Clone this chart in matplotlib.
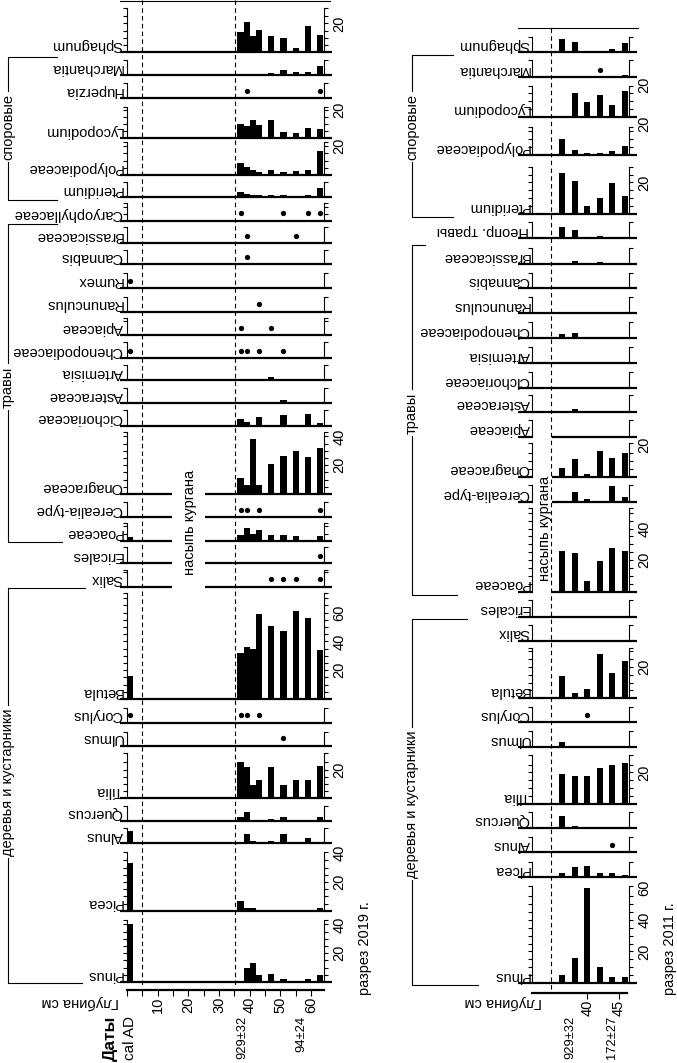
import matplotlib.pyplot as plt
from matplotlib import transforms

plt.rcParams['font.family'] = ['Liberation Sans', 'DejaVu Sans']

W, H = 677, 1063
P = 'p'  # единичные зерна - точка

# ---------------- разрез 2019 г. ----------------
depth19 = [1, 37, 39, 41, 43, 47, 51, 55, 59, 63]
pinus19 = [40, 1, 9.5, 13, 5, 5.5, 2, 0, 2, 5]
picea19 = [33, 6.6, 2, 2, 0, 0, 0, 0, 0.5, 1.6]
alnus19 = [8.4, 1.1, 6.4, 1.8, 0.7, 1.8, 6.4, 0.7, 3.4, 1.1]
quercus19 = [0, 2.7, 6.2, 0, 0, 0.9, 2.3, 0, 0, 2.7]
tilia19 = [0, 25, 21.7, 9.1, 12.6, 21.7, 9.1, 12.6, 12.6, 22.4]
ulmus19 = [0, 0, 0, 0, 0, 0, P, 0, 0, 0]
corylus19 = [P, P, P, 0, P, 0, 0, 0, 0, 0]
betula19 = [16, 32, 36, 35, 59, 51, 47, 61, 56, 34]
salix19 = [0, 0, 0, 0, 0, P, P, P, 0, P]
ericales19 = [0, 0, 0, 0, 0, 0, 0, 0, 0, P]
poaceae19 = [2.3, 3.9, 9.1, 5, 7.3, 3.9, 3.9, 3.2, 0, 3.2]
cerealia19 = [0, P, P, 0, P, 0, 0, 0, 0, P]
onagraceae19 = [0, 11, 6, 38, 6, 20.5, 26.5, 29.7, 25.5, 32]
cichoriaceae19 = [0, 5, 2.7, 0, 6.2, 0, 7.3, 0.5, 8, 2]
asteraceae19 = [0, 1.1, 0, 0, 0.7, 0, 2.3, 0, 0, 0]
artemisia19 = [1, 0, 0, 0, 0.7, 1.8, 0, 0, 0, 0]
chenopod19 = [P, P, P, 0, P, 0, P, 0, 0, 0]
apiaceae19 = [0, P, 0, 0, 0, P, 0, 0, 0, 0]
ranunculus19 = [0, 0, 0, 0, P, 0, 0, 0, 0, 0]
rumex19 = [P, 0, 0, 0, 0, 0, 0, 0, 0, 0]
cannabis19 = [0, 0, P, 0, 0, 0, 0, 0, 0, 0]
brassica19 = [0, 0, P, 0, 0, 0, 0, P, 0, 0]
caryoph19 = [0, P, 0, 0, 0, 0, P, 0, P, P]
pteridium19 = [0.9, 3.2, 2.3, 1.6, 1.4, 1.6, 1.6, 0.9, 1.4, 6.2]
polypod19 = [0, 8.4, 5.7, 3.4, 2.3, 3.4, 2.3, 3, 3.4, 16.7]
lycopod19 = [0, 9.8, 8.4, 13, 9.1, 13, 4.6, 3.9, 7.3, 6.8]
huperzia19 = [0, 0, P, 0, 0, 0, 0, 0, 0, P]
marchantia19 = [0, 0.7, 0, 0, 0.7, 1.1, 3.4, 2.3, 2.3, 6.2]
sphagnum19 = [0.5, 14.2, 21, 11.2, 15.8, 11.2, 9.6, 2.7, 18, 11.9]

taxa19 = ['Pinus', 'Picea', 'Alnus', 'Quercus', 'Tilia', 'Ulmus', 'Corylus',
          'Betula', 'Salix', 'Ericales', 'Poaceae', 'Cerealia-type',
          'Onagraceae', 'Cichoriaceae', 'Asteraceae', 'Artemisia',
          'Chenopodiaceae', 'Apiaceae', 'Ranunculus', 'Rumex', 'Cannabis',
          'Brassicaceae', 'Caryophyllaceae', 'Pteridium', 'Polypodiaceae',
          'Lycopodium', 'Huperzia', 'Marchantia', 'Sphagnum']
values19 = [pinus19, picea19, alnus19, quercus19, tilia19, ulmus19, corylus19,
            betula19, salix19, ericales19, poaceae19, cerealia19,
            onagraceae19, cichoriaceae19, asteraceae19, artemisia19,
            chenopod19, apiaceae19, ranunculus19, rumex19, cannabis19,
            brassica19, caryoph19, pteridium19, polypod19, lycopod19,
            huperzia19, marchantia19, sphagnum19]
scale19 = {'Pinus': [20, 40], 'Picea': [20, 40], 'Tilia': [20],
           'Betula': [20, 40, 60], 'Onagraceae': [20, 40],
           'Polypodiaceae': [20], 'Lycopodium': [20], 'Sphagnum': [20]}
gap19 = ['Salix', 'Ericales', 'Poaceae', 'Cerealia-type', 'Onagraceae']
bounds19 = [4.9, 35.2]
dates19 = ['929±32', '94±24']
date_depth19 = [37.6, 56.8]

# ---------------- разрез 2011 г. ----------------
depth11 = [36, 38, 40, 42, 44, 46]
pinus11 = [5, 15.8, 60, 10.3, 4, 4]
picea11 = [2.5, 6.3, 7.2, 3, 3, 1.5]
alnus11 = [0, 0, 0, 0, P, 0]
quercus11 = [7.6, 1, 0, 0, 0, 0.6]
tilia11 = [19, 17.7, 17.7, 22.6, 24.7, 26.1]
ulmus11 = [3.2, 1, 0, 0, 0, 0]
corylus11 = [0, 0, P, 0, 0, 0]
betula11 = [14.3, 3.2, 5.9, 28.1, 15.8, 23.6]
salix11 = [0, 0, 0, 0, 0, 0]
ericales11 = [0, 0, 0, 0, 0, 0]
poaceae11 = [26, 24.3, 6.8, 19.4, 27.8, 26]
cerealia11 = [0, 6.3, 1.7, 0, 9.9, 3.2]
onagraceae11 = [5.7, 11, 1.7, 16.2, 12, 15.2]
apiaceae11 = [0, 0, 0, 0, 0, 0]
asteraceae11 = [0, 1.7, 0, 0, 0, 0]
cichoriaceae11 = [0, 0, 0, 0, 0, 0]
artemisia11 = [0, 0, 0, 0, 0, 0]
chenopod11 = [2.7, 3.6, 1, 0, 0, 0]
ranunculus11 = [0, 0, 0, 0, 0, 0]
cannabis11 = [0, 0, 0, 0, 0, 0]
brassica11 = [0, 2, 0, 1, 0.7, 0]
neopr11 = [7, 5.3, 0.6, 1.5, 0.6, 1]
pteridium11 = [25.7, 20.9, 5.1, 10.3, 19.8, 11.4]
polypod11 = [9.9, 3.2, 1.1, 1.5, 2.7, 5.9]
lycopod11 = [0, 15.2, 9.5, 13.7, 7.4, 16.5]
marchantia11 = [0, 0, 0, P, 0.8, 1.5]
sphagnum11 = [8.2, 6.8, 0.8, 0.8, 1.9, 6.1]

taxa11 = ['Pinus', 'Picea', 'Alnus', 'Quercus', 'Tilia', 'Ulmus', 'Corylus',
          'Betula', 'Salix', 'Ericales', 'Poaceae', 'Cerealia-type',
          'Onagraceae', 'Apiaceae', 'Asteraceae', 'Cichoriaceae', 'Artemisia',
          'Chenopodiaceae', 'Ranunculus', 'Cannabis', 'Brassicaceae',
          'Неопр. травы', 'Pteridium', 'Polypodiaceae', 'Lycopodium',
          'Marchantia', 'Sphagnum']
values11 = [pinus11, picea11, alnus11, quercus11, tilia11, ulmus11, corylus11,
            betula11, salix11, ericales11, poaceae11, cerealia11,
            onagraceae11, apiaceae11, asteraceae11, cichoriaceae11,
            artemisia11, chenopod11, ranunculus11, cannabis11, brassica11,
            neopr11, pteridium11, polypod11, lycopod11, marchantia11,
            sphagnum11]
scale11 = {'Pinus': [20, 40, 60], 'Tilia': [20], 'Betula': [20],
           'Poaceae': [20, 40], 'Onagraceae': [20], 'Pteridium': [20],
           'Polypodiaceae': [20], 'Lycopodium': [20]}
gap11 = ['Poaceae', 'Cerealia-type', 'Onagraceae', 'Apiaceae']
bounds11 = [34.3]
dates11 = ['929±32', '172±27']
date_depth11 = [37.3, 43.9]

# ---------------- layout (pixels) ----------------
base19 = [982, 910.7, 843.3, 820.7, 798.3, 745.7, 722.7, 699, 586.7, 563.3,
          540.7, 517.3, 494, 425.7, 403.3, 380, 358.3, 335, 311.7, 288.3,
          264, 243, 221, 197, 175, 138.3, 98.3, 75, 52.3]
top19 = [920, 852, 828, 806, 753, 732, 708, 593, 570, 547, 523, 502, 432,
         410, 388, 365, 342, 318, 297, 273, 250, 227, 203, 182, 142, 107, 83,
         60, 8]
base11 = [983, 877.3, 852.3, 827.7, 804, 747.3, 722.3, 698.3, 640.7, 616.7,
          591.7, 501.7, 476.7, 436.7, 411.7, 388.3, 363.3, 338.3, 313.3,
          288.3, 264, 238.3, 214, 155, 116.7, 77.3, 52.3]
top11 = [886, 861.7, 836.7, 812.3, 755, 730.7, 706.7, 648.3, 625, 600,
         508.3, 485, 443.3, 420, 395, 371.7, 346.7, 321.7, 296.7, 273, 248.3,
         221.7, 166.7, 126.7, 85.7, 60, 36.7]

fig = plt.figure(figsize=(W / 100, H / 100), dpi=100)
ov = fig.add_axes([0, 0, 1, 1])
ov.set_xlim(0, W)
ov.set_ylim(H, 0)
ov.axis('off')


def panel(taxa, values, depths, base, top, scales, gaps, x0, x1, dlim,
          pxper, bar_w, line_d, gap_d, label_d):
    for name, vals, yb, yt in zip(taxa, values, base, top):
        ax = fig.add_axes([x0 / W, 1 - yb / H, (x1 - x0) / W, (yb - yt) / H])
        vmax = (yb - yt) / pxper
        ax.set_xlim(dlim)
        ax.set_ylim(0, vmax)
        ax.patch.set_visible(False)
        for s in ['top', 'bottom']:
            ax.spines[s].set_visible(False)
        for s in ['left', 'right']:
            ax.spines[s].set_linewidth(0.8)
        ax.set_xticks([])
        step = 5 if vmax > 12 else 10
        ticks = [t for t in range(step, int(vmax) + 1, step) if vmax - t > 1.5]
        ax.set_yticks(ticks + [vmax])
        ax.yaxis.set_ticks_position('both')
        ax.tick_params(axis='y', direction='out', length=3, width=0.8,
                       labelleft=False, labelright=False)
        bd = [d for d, v in zip(depths, vals) if v != P and v > 0]
        bv = [v for v in vals if v != P and v > 0]
        ax.bar(bd, bv, width=bar_w, color='black', linewidth=0)
        dd = [d for d, v in zip(depths, vals) if v == P]
        ax.plot(dd, [7.5 / pxper] * len(dd), 'o', color='black', ms=3.8,
                mew=0, clip_on=False)
        segs = [(line_d[0], line_d[1])]
        if name in gaps:
            segs = [(line_d[0], gap_d[0]), (gap_d[1], line_d[1])]
        for a, b in segs:
            ax.plot([a, b], [0, 0], color='black', lw=1.6, clip_on=False,
                    solid_capstyle='butt')
        for t in scales.get(name, []):
            ax.annotate(str(t), xy=(1, t), xycoords=('axes fraction', 'data'),
                        xytext=(6, 0), textcoords='offset points',
                        rotation=90, ha='left', va='center', fontsize=10.5)
        ax.text(label_d, 0.3 / pxper, name, rotation=180, ha='right',
                va='bottom', fontsize=10.5)


def depth_axis(x0, x1, y, dlim, ticks, labels, dates, date_depths, bounds,
               ytop, name_x):
    ax = fig.add_axes([x0 / W, 1 - y / H, (x1 - x0) / W, 1 / H])
    ax.set_xlim(dlim)
    ax.patch.set_visible(False)
    for s in ['top', 'left', 'right']:
        ax.spines[s].set_visible(False)
    ax.spines['bottom'].set_linewidth(1.6)
    ax.set_yticks([])
    ax.set_xticks(ticks)
    ax.set_xticklabels([str(t) if t in labels else '' for t in ticks],
                       rotation=90, fontsize=10.5)
    ax.tick_params(axis='x', direction='out', length=4, width=0.8, pad=1)
    tr = transforms.blended_transform_factory(ax.transData, ov.transData)
    for s, d in zip(dates, date_depths):
        ov.text(d, 1016, s, transform=tr, rotation=90, ha='center', va='top',
                fontsize=9.3)
    for d in bounds:
        ov.plot([d, d], [ytop, y - 3], transform=tr, color='black', lw=0.8,
                ls=(0, (4, 3)))
    ov.text(name_x, 1002, 'Глубина см', rotation=180, ha='center',
            va='center', fontsize=10.5)


# left panel
panel(taxa19, values19, depth19, base19, top19, scale19, gap19,
      127, 324, (0, 64.2), 1.44, 2.0, (-2.2, 66.8), (14.7, 25.4), -1.4)
depth_axis(127, 324, 990, (0, 64.2), list(range(0, 65, 5)),
           [10, 20, 30, 40, 50, 60], dates19, date_depth19, bounds19, 0, 80)

# right panel
panel(taxa11, values11, depth11, base11, top11, scale11, gap11,
      531.7, 629, (31.2, 46.65), 1.58, 0.95, (29.1, 47.9), (31.45, 34.4),
      30.85)
depth_axis(531.7, 626.7, 993, (31.2, 46.25), [40, 45], [40, 45],
           dates11, date_depth11, bounds11, 28, 503)

# frames on top
ov.plot([120, 330], [0.8, 0.8], color='black', lw=0.8)
ov.plot([518, 638], [27.7, 27.7], color='black', lw=0.8)

# group brackets
groups19 = [('деревья и кустарники', 588, 983, 85, 82, 782),
            ('травы', 224, 541.7, 57, 62, 387),
            ('споровые', 57, 200, 57, 57, 127)]
groups11 = [('деревья и кустарники', 619, 985, 467, 478, 804),
            ('травы', 245, 595, 425, 457, 413),
            ('споровые', 55, 216.7, 453, 453, 127)]
for bx, groups in [(8, groups19), (412, groups11)]:
    for text, y0, y1, s0, s1, yc in groups:
        ov.plot([s0, bx, bx, s1], [y0, y0, y1, y1], color='black', lw=0.8)
        ov.text(bx, yc, text, rotation=90, ha='center', va='center',
                fontsize=10.5,
                bbox=dict(facecolor='white', edgecolor='none', pad=1.5))

ov.text(190, 522, 'насыпь кургана', rotation=90, ha='center', va='center',
        fontsize=10.5)
ov.text(545, 528, 'насыпь кургана', rotation=90, ha='center', va='center',
        fontsize=10.5)
ov.text(110, 1038, 'Даты', rotation=90, ha='center', va='center',
        fontsize=12.5, fontweight='bold')
ov.text(130, 1038, 'cal AD', rotation=90, ha='center', va='center',
        fontsize=11)
ov.text(365, 995, 'разрез 2019 г.', rotation=90, ha='center', va='bottom',
        fontsize=10.5)
ov.text(670, 995, 'разрез 2011 г.', rotation=90, ha='center', va='bottom',
        fontsize=10.5)

fig.savefig('out.png', dpi=100)
